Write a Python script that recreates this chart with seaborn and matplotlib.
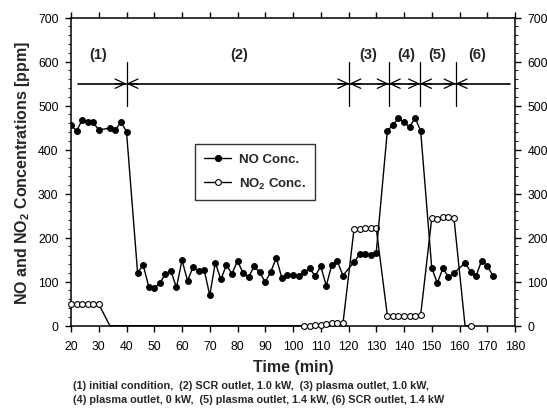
import numpy as np
import pandas as pd
import matplotlib
matplotlib.use("Agg")
import matplotlib.pyplot as plt
from matplotlib.ticker import MultipleLocator
from matplotlib.lines import Line2D
import seaborn as sns

# ---------------- data ----------------
no_time = [20, 22, 24, 26, 28, 30, 34, 36, 38, 40,
           44, 46, 48, 50, 52, 54, 56, 58, 60, 62, 64, 66, 68, 70, 72, 74,
           76, 78, 80, 82, 84, 86, 88, 90, 92, 94, 96, 98, 100, 102, 104, 106,
           108, 110, 112, 114, 116, 118,
           122, 124, 126, 128, 130,
           134, 136, 138, 140, 142, 144, 146,
           150, 152, 154, 156, 158,
           162, 164, 166, 168, 170, 172]
no_conc = [456, 443, 467, 462, 462, 445, 449, 445, 463, 441,
           120, 138, 89, 86, 96, 118, 124, 87, 149, 102, 134, 124, 127, 69, 143, 105,
           138, 118, 147, 120, 110, 135, 121, 99, 123, 154, 108, 116, 115, 114, 121, 130,
           113, 135, 91, 139, 146, 114,
           145, 162, 163, 161, 166,
           443, 456, 472, 462, 452, 472, 443,
           131, 97, 130, 111, 119,
           143, 123, 114, 148, 136, 114]

no2_time = [20, 22, 24, 26, 28, 30, 34,
            104, 106, 108, 110, 112, 114, 116, 118,
            122, 124, 126, 128, 130,
            134, 136, 138, 140, 142, 144, 146,
            150, 152, 154, 156, 158, 162, 164]
no2_conc = [50, 50, 50, 49, 49, 49, 0,
            0, 0, 1, 2, 3, 5, 5, 5,
            220, 220, 221, 221, 221,
            23, 22, 21, 21, 21, 23, 24,
            244, 242, 246, 246, 245, 0, 0]

# stage boundaries and labels
stage_bounds = [40, 120.3, 134.5, 145.8, 158.6]
stage_labels = ["(1)", "(2)", "(3)", "(4)", "(5)", "(6)"]
stage_label_x = [29.8, 80.5, 127, 140.7, 152, 166.4]
stage_line_y = 550
stage_span = (22.6, 178.2)

x_ticks = list(range(20, 181, 10))
y_ticks = list(range(0, 701, 100))
caption = ["(1) initial condition,  (2) SCR outlet, 1.0 kW,  (3) plasma outlet, 1.0 kW,",
           "(4) plasma outlet, 0 kW,  (5) plasma outlet, 1.4 kW, (6) SCR outlet, 1.4 kW"]

# ---------------- style ----------------
sns.set_theme(style="ticks")
plt.rcParams['font.family'] = ['Liberation Sans', 'DejaVu Sans']
plt.rcParams['mathtext.fontset'] = 'custom'
plt.rcParams['mathtext.rm'] = 'Liberation Sans'
plt.rcParams['mathtext.bf'] = 'Liberation Sans:bold'

fig = plt.figure(figsize=(5.47, 4.10), dpi=100)
ax = fig.add_axes([0.1298, 0.2032, 0.8117, 0.7512])

df_no = pd.DataFrame({"time": no_time, "conc": no_conc})
df_no2 = pd.DataFrame({"time": no2_time, "conc": no2_conc})

no2_marks = [i for i, t in enumerate(no2_time) if t not in (34, 162)]

sns.lineplot(data=df_no2, x="time", y="conc", ax=ax, color="black", lw=1.0,
             marker="o", markersize=4.2, markerfacecolor="white",
             markeredgecolor="black", markeredgewidth=0.8,
             markevery=no2_marks, errorbar=None, clip_on=False, zorder=3)
sns.lineplot(data=df_no, x="time", y="conc", ax=ax, color="black", lw=1.0,
             marker="o", markersize=4.2, markerfacecolor="black",
             markeredgecolor="black", errorbar=None, zorder=4)

ax.set_xlim(20, 180)
ax.set_ylim(0, 700)
ax.set_xticks(x_ticks)
ax.set_yticks(y_ticks)
ax.yaxis.set_minor_locator(MultipleLocator(20))
ax.tick_params(axis='both', which='major', direction='out', length=4,
               width=1, labelsize=8.8, colors='black', pad=3)
ax.tick_params(axis='y', which='minor', direction='out', length=2.2, width=0.8)
ax.tick_params(axis='y', right=True, labelright=True, which='both')
ax.tick_params(axis='y', which='major', pad=5)
ax.tick_params(axis='x', top=True, which='major')
ax.tick_params(axis='x', which='major', pad=6)
for s in ax.spines.values():
    s.set_linewidth(1.1)
    s.set_color('black')
ax.grid(False)

ax.set_xlabel("Time (min)", fontsize=11.5, fontweight='bold', labelpad=5)
ax.set_ylabel(r"NO and NO$_\mathbf{2}$ Concentrations [ppm]", fontsize=11.5,
              fontweight='bold', labelpad=4)

# stage annotations
ax.plot(list(stage_span), [stage_line_y, stage_line_y], color='black', lw=1.2)
for b in stage_bounds:
    ax.plot([b, b], [500, 600], color='black', lw=0.9)
    for d in (-1, 1):
        ax.annotate("", xy=(b, stage_line_y), xytext=(b + d * 4, stage_line_y),
                    arrowprops=dict(arrowstyle="->,head_length=0.6,head_width=0.28",
                                    color='black', lw=0.9, shrinkA=0, shrinkB=0))
for lab, xpos in zip(stage_labels, stage_label_x):
    ax.text(xpos, 617, lab, ha='center', va='center', fontsize=10.5, fontweight='bold')

handles = [Line2D([], [], color='black', lw=1.0, marker='o', markersize=4.2,
                  markerfacecolor='black'),
           Line2D([], [], color='black', lw=1.0, marker='o', markersize=4.2,
                  markerfacecolor='white', markeredgewidth=0.8)]
leg = ax.legend(handles, ["NO Conc.", r"NO$_\mathbf{2}$ Conc."],
                loc='upper left', bbox_to_anchor=(0.265, 0.612),
                frameon=True, fancybox=False, edgecolor='black',
                prop={'weight': 'bold', 'size': 9.5}, handlelength=2.0,
                borderpad=0.7, labelspacing=0.8, handletextpad=0.6)
leg.get_frame().set_linewidth(1.0)

fig.text(73 / 547, 1 - 386 / 410, caption[0], fontsize=7.8, fontweight='bold',
         ha='left', va='center')
fig.text(73 / 547, 1 - 400 / 410, caption[1], fontsize=7.8, fontweight='bold',
         ha='left', va='center')

fig.savefig("out.png", dpi=100)
